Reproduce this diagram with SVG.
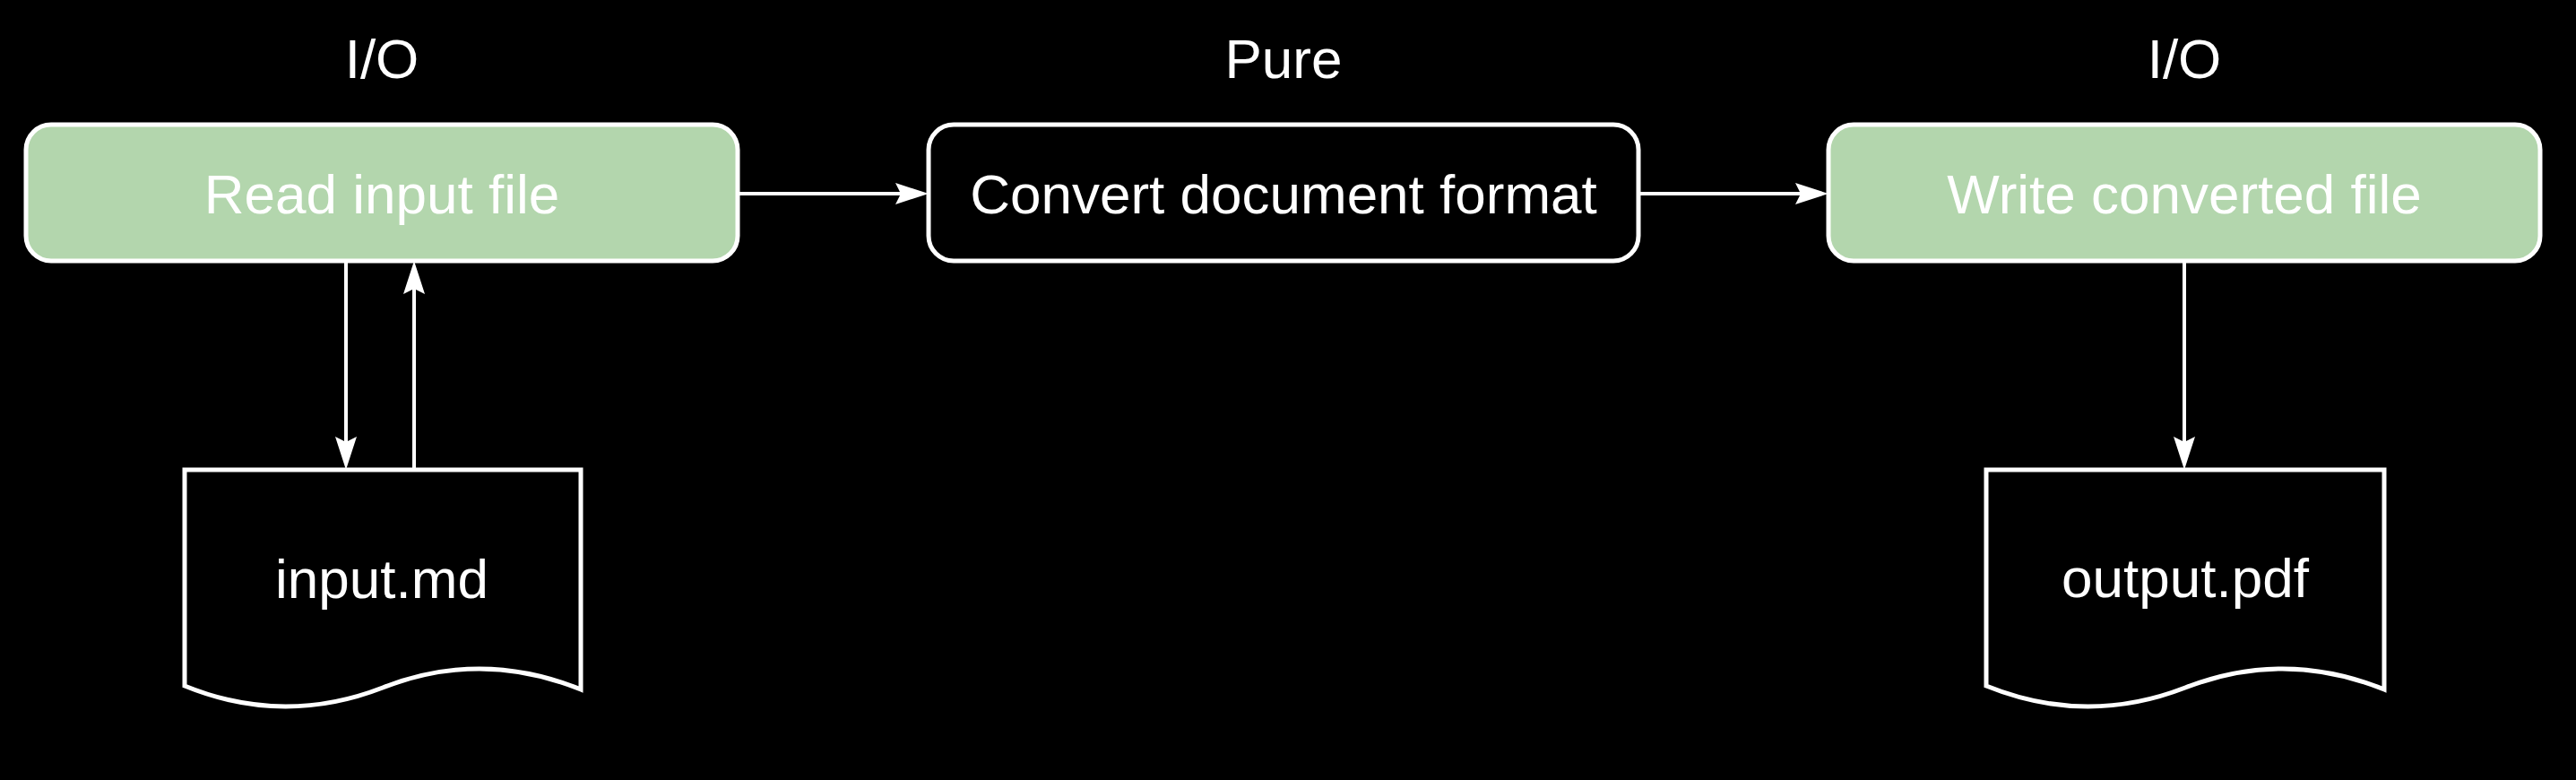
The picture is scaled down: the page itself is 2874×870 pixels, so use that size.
<svg xmlns="http://www.w3.org/2000/svg" width="2874" height="870" viewBox="0 0 2874 870">
<defs>
<style>
.lbl{font-family:"Liberation Sans",Arial,sans-serif;font-size:62px;fill:#ffffff;text-anchor:middle}
.io{fill:#b3d6ad;stroke:#ffffff;stroke-width:5}
.pure{fill:#000000;stroke:#ffffff;stroke-width:5}
.doc{fill:#000000;stroke:#ffffff;stroke-width:5;stroke-linejoin:miter}
.edge{fill:none;stroke:#ffffff;stroke-width:4;marker-end:url(#arr)}
</style>
<marker id="arr" markerUnits="userSpaceOnUse" markerWidth="42" markerHeight="26" refX="29" refY="12" orient="auto">
<path d="M0,0 L37,12 L0,24 L6,12 Z" fill="#ffffff"/>
</marker>
</defs>
<rect x="0" y="0" width="2874" height="870" fill="#000000"/>
<g id="labels">
<text class="lbl" x="426" y="87">I/O</text>
<text class="lbl" x="1432" y="87">Pure</text>
<text class="lbl" x="2437" y="87">I/O</text>
</g>
<g id="read">
<rect class="io" x="29" y="139" width="794" height="152" rx="28" ry="28"/>
<text class="lbl" x="426" y="238">Read input file</text>
</g>
<g id="convert">
<rect class="pure" x="1036" y="139" width="792" height="152" rx="28" ry="28"/>
<text class="lbl" x="1432" y="238">Convert document format</text>
</g>
<g id="write">
<rect class="io" x="2040" y="139" width="794" height="152" rx="28" ry="28"/>
<text class="lbl" x="2437" y="238">Write converted file</text>
</g>
<g id="input-md">
<path class="doc" d="M206,524 H648 V769 Q537,724 427,767 Q316,810 206,765 Z"/>
<text class="lbl" x="426" y="667">input.md</text>
</g>
<g id="output-pdf">
<path class="doc" d="M2216,524 H2660 V769 Q2549,724 2438,767 Q2327,810 2216,765 Z"/>
<text class="lbl" x="2438" y="666">output.pdf</text>
</g>
<g id="connectors">
<path class="edge" d="M823,216 H1028"/>
<path class="edge" d="M1828,216 H2032"/>
<path class="edge" d="M386,291 V516"/>
<path class="edge" d="M462,524 V299"/>
<path class="edge" d="M2437,292 V516"/>
</g>
</svg>
